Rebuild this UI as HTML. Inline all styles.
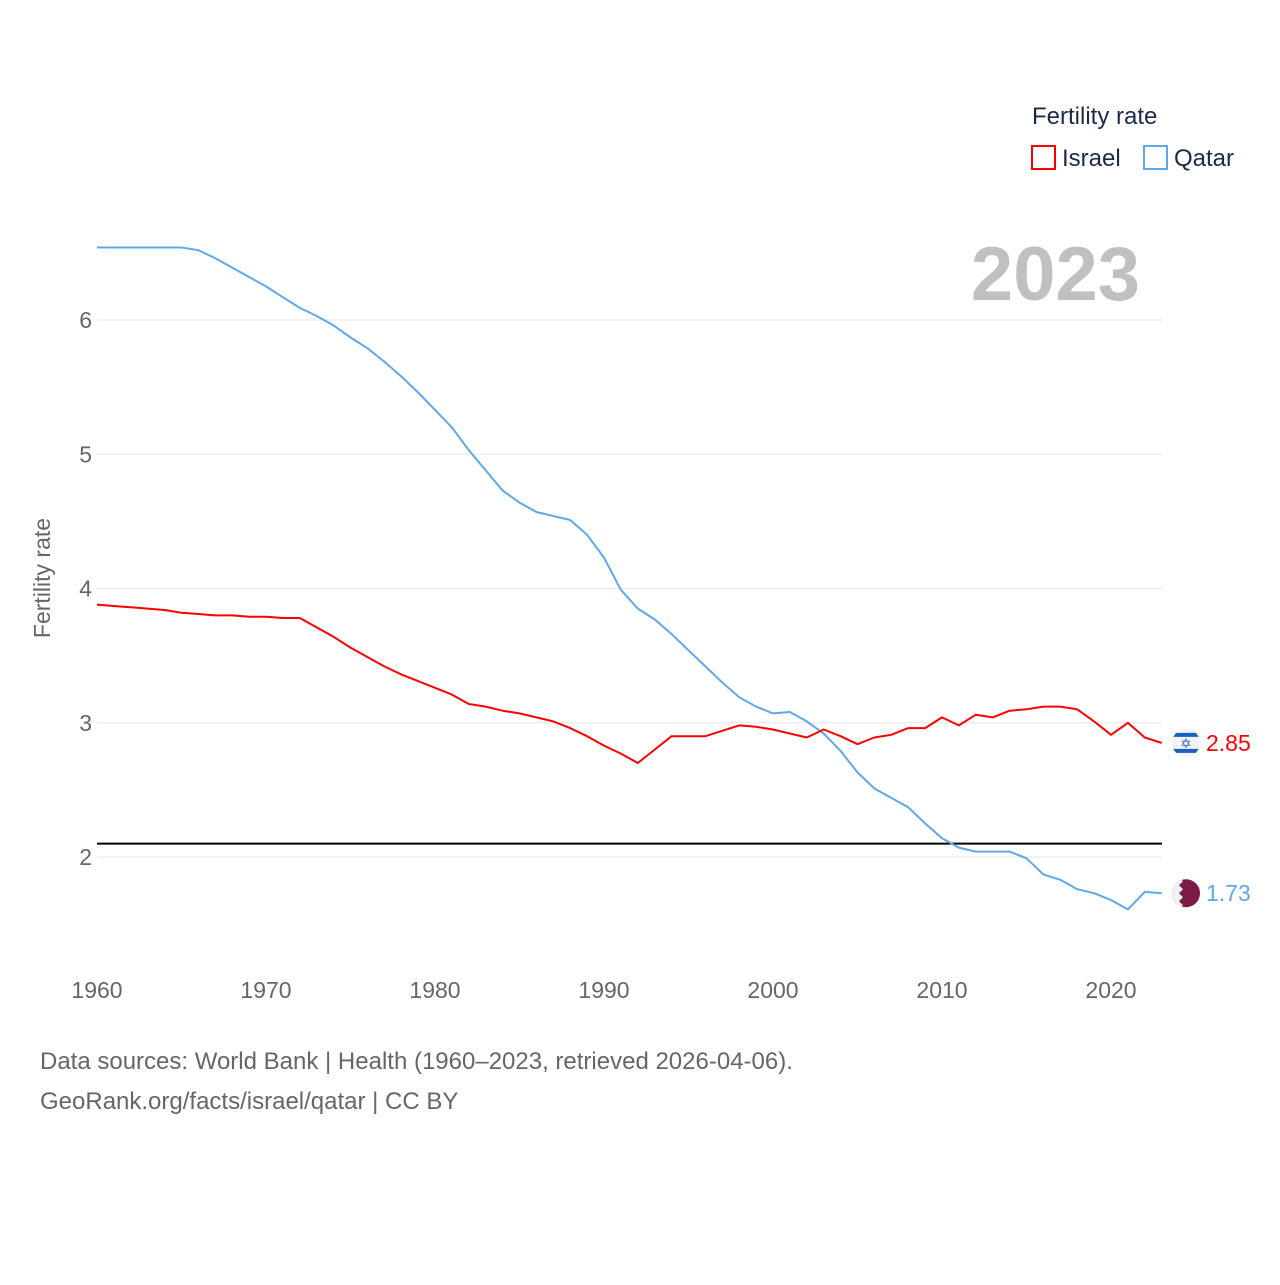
<!DOCTYPE html>
<html><head><meta charset="utf-8">
<style>
html,body{margin:0;padding:0;background:#fff;}
body{width:1280px;height:1280px;overflow:hidden;font-family:"Liberation Sans",sans-serif;}
svg text{font-family:"Liberation Sans",sans-serif;}
</style></head>
<body>
<svg id="chart" width="1280" height="1280" viewBox="0 0 1280 1280" xmlns="http://www.w3.org/2000/svg">
  <defs id="defs"></defs>
  <g id="grid"></g>
  <g id="yticks"></g>
  <g id="xticks"></g>
  <text x="50" y="578" transform="rotate(-90 50 578)" text-anchor="middle" font-size="23" fill="#666">Fertility rate</text>
  <text x="1140" y="300" text-anchor="end" font-size="76" font-weight="bold" fill="#c0c0c0">2023</text>
  <g>
    <text x="1032" y="124" font-size="24" fill="#1a2b4a">Fertility rate</text>
    <rect x="1032" y="146" width="23" height="23" fill="none" stroke="#ff0000" stroke-width="2"/>
    <text x="1062" y="166" font-size="24" fill="#1a2b4a">Israel</text>
    <rect x="1144" y="146" width="23" height="23" fill="none" stroke="#5ea8ec" stroke-width="2"/>
    <text x="1174" y="166" font-size="24" fill="#1a2b4a">Qatar</text>
  </g>
  <g id="series"></g>
  <g id="ends"></g>
  <text x="40" y="1069" font-size="24" fill="#666">Data sources: World Bank | Health (1960–2023, retrieved 2026-04-06).</text>
  <text x="40" y="1109" font-size="24" fill="#666">GeoRank.org/facts/israel/qatar | CC BY</text>
</svg>
<script>
const years = [];
for (let y = 1960; y <= 2023; y++) years.push(y);
const israel = [3.88,3.87,3.86,3.85,3.84,3.82,3.81,3.80,3.80,3.79,3.79,3.78,3.78,3.71,3.64,3.56,3.49,3.42,3.36,3.31,3.26,3.21,3.14,3.12,3.09,3.07,3.04,3.01,2.96,2.90,2.83,2.77,2.70,2.80,2.90,2.90,2.90,2.94,2.98,2.97,2.95,2.92,2.89,2.95,2.90,2.84,2.89,2.91,2.96,2.96,3.04,2.98,3.06,3.04,3.09,3.10,3.12,3.12,3.10,3.01,2.91,3.00,2.89,2.85];
const qatar = [6.54,6.54,6.54,6.54,6.54,6.54,6.52,6.46,6.39,6.32,6.25,6.17,6.09,6.03,5.96,5.87,5.79,5.69,5.58,5.46,5.33,5.20,5.03,4.88,4.73,4.64,4.57,4.54,4.51,4.40,4.23,3.99,3.85,3.77,3.66,3.54,3.42,3.30,3.19,3.12,3.07,3.08,3.01,2.92,2.79,2.63,2.51,2.44,2.37,2.25,2.14,2.07,2.04,2.04,2.04,1.99,1.87,1.83,1.76,1.73,1.68,1.61,1.74,1.73];
const yTicks = [2,3,4,5,6];
const xTicks = [1960,1970,1980,1990,2000,2010,2020];
const replacementRate = [2.1];
const endLabels = ["2.85","1.73"];

const NS = "http://www.w3.org/2000/svg";
const X0 = 97, X1 = 1162;
const x = yr => 97 + (yr - 1960) * (1111 - 97) / 60;
const y = v => 857 - (v - 2) * 134.25;
function mk(tag, attrs, parent){const e=document.createElementNS(NS,tag);for(const k in attrs)e.setAttribute(k,attrs[k]);parent.appendChild(e);return e;}

const grid = document.getElementById('grid'), yt = document.getElementById('yticks'), xt = document.getElementById('xticks');
yTicks.forEach(t=>{
  const l = mk('line',{x1:X0,x2:X1,y1:y(t),y2:y(t),stroke:'#e6e6e6','stroke-width':1},grid);
  
  
  const tx = mk('text',{x:92,y:y(t)+8,'text-anchor':'end','font-size':23,fill:'#666'},yt);
  tx.textContent = t;
  
  
});
xTicks.forEach(t=>{
  const tx = mk('text',{x:x(t),y:998,'text-anchor':'middle','font-size':23,fill:'#666'},xt);
  tx.textContent = t;
  
  
});
const s = document.getElementById('series');
const ref = mk('line',{x1:X0,x2:X1,y1:y(replacementRate[0]),y2:y(replacementRate[0]),stroke:'#000','stroke-width':2},s);


function line(data,color,name){
  const d = data.map((v,i)=>(i?'L':'M')+x(years[i]).toFixed(1)+','+y(v).toFixed(1)).join('');
  const p = mk('path',{d:d,fill:'none',stroke:color,'stroke-width':2,'stroke-linejoin':'round'},s);
  
  
}
line(qatar,'#5ea8ec','qatar-line');
line(israel,'#ff0000','israel-line');

const ends = document.getElementById('ends');
const defs = document.getElementById('defs');
const last = years.length-1;
const iy = y(israel[last]);
const qy = y(qatar[last]);
const c1 = mk('clipPath',{id:'clipI'},defs); mk('circle',{cx:1186,cy:iy,r:14},c1);
const c2 = mk('clipPath',{id:'clipQ'},defs); mk('circle',{cx:1186,cy:qy,r:14},c2);
// Israel flag
const gI = mk('g',{'clip-path':'url(#clipI)'},ends);


mk('rect',{x:1170,y:iy-16,width:32,height:32,fill:'#f2f2f2'},gI);
mk('rect',{x:1170,y:iy-10,width:32,height:4,fill:'#1a5fc4'},gI);
mk('rect',{x:1170,y:iy+6,width:32,height:4,fill:'#1a5fc4'},gI);
const star = mk('text',{x:1186,y:iy+5,'text-anchor':'middle','font-size':13,fill:'#1a5fc4'},gI);
star.textContent='✡';
const tI = mk('text',{x:1206,y:iy+8,'font-size':23,fill:'#ff0000'},ends);
tI.textContent = endLabels[0];


// Qatar flag
const gQ = mk('g',{'clip-path':'url(#clipQ)'},ends);


mk('rect',{x:1170,y:qy-16,width:32,height:32,fill:'#7a1a45'},gQ);
mk('path',{d:`M1170,${qy-16} L1179,${qy-16} L1183,${qy-12} L1179,${qy-8} L1183,${qy-4} L1179,${qy} L1183,${qy+4} L1179,${qy+8} L1183,${qy+12} L1179,${qy+16} L1170,${qy+16} Z`,fill:'#f2f2f2'},gQ);
const tQ = mk('text',{x:1206,y:qy+8,'font-size':23,fill:'#5ea8ec'},ends);
tQ.textContent = endLabels[1];


</script>
</body></html>
